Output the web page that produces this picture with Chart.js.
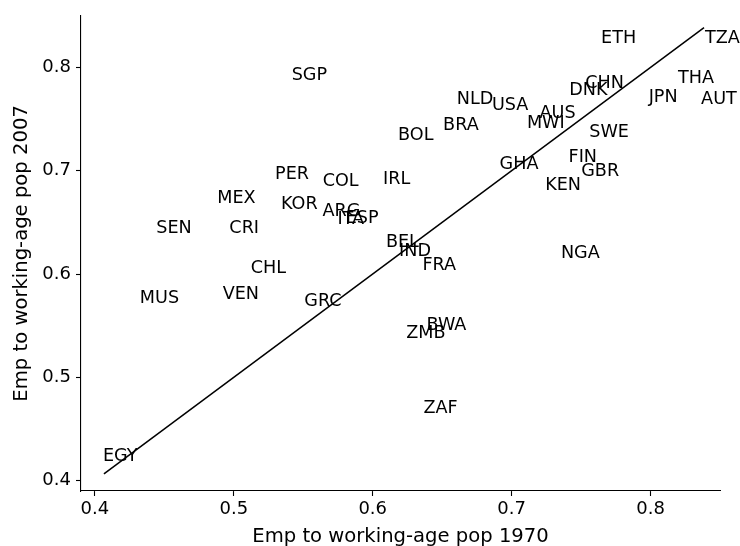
<!DOCTYPE html>
<html>
<head>
<meta charset="utf-8">
<script src="https://cdn.jsdelivr.net/npm/chart.js@4/dist/chart.umd.min.js"></script>
<style>
  html, body { margin: 0; padding: 0; background: #fff; }
  #wrap { width: 740px; height: 546px; }
</style>
</head>
<body>
<div id="wrap"><canvas id="chart" width="740" height="546"></canvas></div>
<script>
// country codes, employment to working-age population ratios
const codes = ['SGP', 'PER', 'COL', 'IRL', 'MEX', 'KOR', 'ARG', 'ITA', 'ESP', 'SEN', 'CRI', 'BEL',
    'CHL', 'MUS', 'VEN', 'GRC', 'EGY', 'ETH', 'TZA', 'THA', 'CHN', 'DNK', 'JPN', 'AUT', 'NLD',
    'USA', 'AUS', 'MWI', 'BRA', 'BOL', 'SWE', 'FIN', 'GBR', 'GHA', 'KEN', 'NGA', 'IND', 'FRA',
    'BWA', 'ZMB', 'ZAF'];
const emp1970 = [0.5424, 0.5304, 0.5640, 0.6082, 0.4888, 0.5347, 0.5638, 0.5753, 0.5813, 0.4449, 0.4968, 0.6102,
    0.5122, 0.4331, 0.4920, 0.5508, 0.4065, 0.7651, 0.8385, 0.8191, 0.7530, 0.7422, 0.7979, 0.8364, 0.6613,
    0.6865, 0.7201, 0.7117, 0.6514, 0.6190, 0.7566, 0.7417, 0.7501, 0.6913, 0.7249, 0.7362, 0.6197, 0.6365,
    0.6394, 0.6241, 0.6365];
const emp2007 = [0.7882, 0.6925, 0.6853, 0.6876, 0.6689, 0.6625, 0.6560, 0.6489, 0.6499, 0.6402, 0.6402, 0.6260,
    0.6015, 0.5721, 0.5757, 0.5690, 0.4193, 0.8236, 0.8236, 0.7849, 0.7801, 0.7730, 0.7665, 0.7650, 0.7650,
    0.7585, 0.7515, 0.7418, 0.7398, 0.7295, 0.7327, 0.7085, 0.6950, 0.7015, 0.6811, 0.6151, 0.6176, 0.6038,
    0.5457, 0.5377, 0.4658];
const tickValues = [0.4, 0.5, 0.6, 0.7, 0.8];

const FONT = 'DejaVu Sans';
const CODE_FS = 17.6;
const TICK_FS = 18;
const TITLE_FS = 19.6;

// 45 degree line from smallest to largest 1970 value
const lo = Math.min(...emp1970);
const hi = Math.max(...emp1970);

const labelPlugin = {
    id: 'codeLabels',
    afterDatasetsDraw(chart) {
        const ctx = chart.ctx;
        const xs = chart.scales.x, ys = chart.scales.y;
        ctx.save();
        ctx.font = CODE_FS + 'px "' + FONT + '"';
        ctx.fillStyle = '#000';
        ctx.textAlign = 'left';
        ctx.textBaseline = 'alphabetic';
        codes.forEach((c, i) => {
            const px = xs.getPixelForValue(emp1970[i]);
            const py = ys.getPixelForValue(emp2007[i]);
            const m = ctx.measureText(c);
            ctx.fillText(c, px + m.actualBoundingBoxLeft, py);
        });
        ctx.restore();
    }
};

function axisOpts(title, isY) {
    return {
        type: 'linear',
        min: 0.39,
        max: 0.85,
        afterBuildTicks: (scale) => { scale.ticks = tickValues.map(v => ({ value: v })); },
        afterFit: (scale) => {
            if (isY) scale.width = 81; else scale.height = 55;
        },
        grid: {
            display: true,
            drawOnChartArea: false,
            drawTicks: true,
            tickLength: 5,
            tickWidth: 1.1,
            tickColor: '#000'
        },
        border: { display: true, color: '#000', width: 1.1 },
        ticks: {
            color: '#000',
            font: { family: FONT, size: TICK_FS },
            padding: isY ? 5 : 3,
            maxRotation: 0,
            callback: (v) => v.toFixed(1)
        },
        title: {
            display: true,
            text: title,
            color: '#000',
            font: { family: FONT, size: TITLE_FS },
            padding: isY ? { top: 10, bottom: 0 } : { top: 0, bottom: -3 }
        }
    };
}

new Chart(document.getElementById('chart'), {
    type: 'scatter',
    data: {
        datasets: [
            {
                label: 'countries',
                data: codes.map((c, i) => ({ x: emp1970[i], y: emp2007[i] })),
                pointRadius: 0,
                pointHoverRadius: 0
            },
            {
                type: 'line',
                label: '45 degree',
                data: [{ x: lo, y: lo }, { x: hi, y: hi }],
                borderColor: '#000',
                borderWidth: 1.5,
                pointRadius: 0,
                fill: false
            }
        ]
    },
    options: {
        responsive: false,
        animation: false,
        events: [],
        layout: { padding: { top: 15, right: 20, left: 0, bottom: 0 } },
        plugins: {
            legend: { display: false },
            tooltip: { enabled: false }
        },
        scales: {
            x: axisOpts('Emp to working-age pop 1970', false),
            y: axisOpts('Emp to working-age pop 2007', true)
        }
    },
    plugins: [labelPlugin]
});
</script>
</body>
</html>
